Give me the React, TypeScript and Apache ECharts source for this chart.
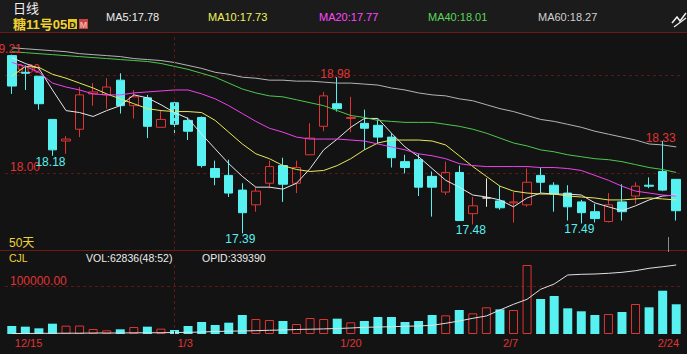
import React, { useEffect, useRef } from 'react';
import * as echarts from 'echarts';

const dates = [
  '12/15','12/16','12/17','12/20','12/21','12/22','12/23','12/27','12/28','12/29','12/30','12/31',
  '1/3','1/4','1/5','1/6','1/7','1/10','1/11','1/12','1/13','1/14','1/18','1/19','1/20','1/21',
  '1/24','1/25','1/26','1/27','1/28','1/31','2/1','2/2','2/3','2/4','2/7','2/8','2/9','2/10','2/11',
  '2/14','2/15','2/16','2/17','2/18','2/22','2/23','2/24','2/25',
];

const openP = [
  19.20, 19.03, 18.99, 18.55, 18.33, 18.45, 18.81, 18.80, 18.95, 18.69,
  18.77, 18.47, 18.72, 18.54, 18.57, 18.05, 17.98, 17.83, 17.68, 17.90,
  18.08, 17.90, 18.19, 18.48, 18.71, 18.56, 18.51, 18.49, 18.37, 18.12,
  18.14, 17.97, 17.81, 18.01, 17.59, 17.75, 17.72, 17.70, 17.68, 17.98,
  17.88, 17.80, 17.71, 17.61, 17.51, 17.71, 17.77, 17.88, 18.02, 17.94,
];
const closeP = [
  18.89, 19.02, 18.71, 18.24, 18.35, 18.80, 18.83, 18.88, 18.69, 18.78,
  18.48, 18.55, 18.50, 18.43, 18.08, 17.96, 17.80, 17.60, 17.82, 18.07,
  17.89, 18.06, 18.36, 18.79, 18.66, 18.57, 18.46, 18.37, 18.16, 18.06,
  17.86, 17.86, 18.01, 17.52, 17.67, 17.75, 17.65, 17.71, 17.91, 17.91,
  17.79, 17.66, 17.60, 17.54, 17.68, 17.61, 17.87, 17.87, 17.83, 17.62,
];
const lowP = [
  18.81, 18.85, 18.65, 18.18, 18.20, 18.37, 18.69, 18.66, 18.61, 18.56,
  18.36, 18.47, 18.41, 18.34, 18.06, 17.88, 17.76, 17.39, 17.61, 17.85,
  17.71, 17.80, 18.19, 18.43, 18.63, 18.42, 18.24, 18.30, 18.06, 18.00,
  17.77, 17.56, 17.78, 17.52, 17.48, 17.66, 17.63, 17.50, 17.66, 17.80,
  17.61, 17.52, 17.49, 17.50, 17.50, 17.52, 17.69, 17.85, 17.82, 17.52,
];
const highP = [
  19.21, 19.10, 18.99, 18.55, 18.38, 18.88, 18.92, 18.97, 19.02, 18.85,
  18.80, 18.64, 18.73, 18.57, 18.58, 18.13, 18.14, 17.90, 17.86, 18.13,
  18.16, 18.13, 18.51, 18.83, 18.98, 18.78, 18.65, 18.55, 18.41, 18.19,
  18.20, 18.02, 18.12, 18.08, 17.76, 17.95, 17.87, 17.81, 18.05, 18.06,
  17.91, 17.88, 17.73, 17.69, 17.80, 17.89, 17.91, 17.96, 18.33, 17.94,
];

const ma5 = [
  19.18, 19.12, 19.07, 18.85, 18.64, 18.62, 18.58, 18.64, 18.69, 18.80,
  18.77, 18.70, 18.62, 18.56, 18.40, 18.25, 18.10, 17.97, 17.86, 17.86,
  17.84, 17.90, 18.05, 18.24, 18.35, 18.47, 18.56, 18.56, 18.41, 18.27,
  18.17, 18.05, 17.93, 17.86, 17.78, 17.76, 17.73, 17.66, 17.75, 17.80,
  17.79, 17.79, 17.78, 17.70, 17.66, 17.62, 17.67, 17.73, 17.77, 17.78,
];
const ma10 = [
  18.99, 19.09, 19.08, 19.01, 18.97, 18.92, 18.87, 18.81, 18.76, 18.71,
  18.66, 18.64, 18.63, 18.63, 18.62, 18.54, 18.42, 18.30, 18.20, 18.15,
  18.08, 18.04, 18.02, 18.03, 18.08, 18.15, 18.24, 18.31, 18.34, 18.34,
  18.34, 18.33, 18.29, 18.18, 18.07, 17.97, 17.87, 17.82, 17.80, 17.79,
  17.79, 17.77, 17.76, 17.75, 17.73, 17.73, 17.74, 17.75, 17.74, 17.73,
];
const ma20 = [
  19.13, 19.09, 19.03, 18.92, 18.88, 18.85, 18.81, 18.80, 18.80, 18.82,
  18.83, 18.84, 18.85, 18.85, 18.81, 18.76, 18.69, 18.61, 18.53, 18.46,
  18.42, 18.37, 18.35, 18.35, 18.35, 18.34, 18.33, 18.30, 18.27, 18.24,
  18.20, 18.18, 18.15, 18.10, 18.08, 18.07, 18.07, 18.07, 18.07, 18.06,
  18.06, 18.05, 18.03, 17.98, 17.93, 17.87, 17.82, 17.80, 17.78, 17.77,
];
const ma40 = [
  19.24, 19.23, 19.22, 19.21, 19.20, 19.19, 19.18, 19.17, 19.16, 19.15,
  19.14, 19.12, 19.09, 19.06, 19.02, 18.98, 18.92, 18.86, 18.82, 18.79,
  18.78, 18.75, 18.72, 18.69, 18.64, 18.59, 18.57, 18.54, 18.53, 18.52,
  18.52, 18.52, 18.50, 18.48, 18.45, 18.41, 18.36, 18.31, 18.28, 18.24,
  18.22, 18.19, 18.17, 18.15, 18.14, 18.12, 18.09, 18.06, 18.04, 18.01,
];
const ma60 = [
  19.28, 19.27, 19.26, 19.25, 19.24, 19.22, 19.21, 19.20, 19.19, 19.17,
  19.16, 19.15, 19.13, 19.10, 19.07, 19.03, 19.01, 18.98, 18.97, 18.95,
  18.95, 18.94, 18.94, 18.93, 18.92, 18.92, 18.91, 18.90, 18.87, 18.85,
  18.82, 18.80, 18.79, 18.76, 18.74, 18.70, 18.66, 18.63, 18.59, 18.55,
  18.53, 18.50, 18.47, 18.43, 18.40, 18.37, 18.34, 18.30, 18.29, 18.27,
];

const volume = [
  16900, 15500, 12000, 21800, 17600, 17900, 10600, 7800, 9900, 14800,
  15500, 11300, 8500, 16900, 25400, 19000, 23900, 40200, 31700, 29600,
  27500, 21100, 33800, 31700, 32400, 24700, 27500, 35900, 35900, 25400,
  27500, 40200, 39500, 50700, 43700, 56400, 52100, 50700, 145900, 74000,
  80300, 54300, 48000, 40200, 42300, 46500, 63400, 56400, 91500, 62836,
];
const openInterest = [
  201000, 201000, 201400, 201400, 201600, 201600, 202000, 202000, 202000, 202400,
  202400, 202600, 203000, 203400, 204000, 205100, 205700, 206100, 206700, 207500,
  208100, 209100, 209700, 210300, 211100, 212100, 213500, 214100, 214700, 215600,
  216200, 217600, 221600, 226300, 231700, 236400, 248500, 260000, 270100, 290300,
  301000, 319200, 320600, 321200, 322600, 324600, 327900, 332700, 335900, 339390,
];

const priceTicks = [18, 19];
const volumeTicks = [100000];

const extremeIndex = [0, 3, 17, 24, 34, 42, 48];
const extremeValue = [19.21, 18.18, 17.39, 18.98, 17.48, 17.49, 18.33];
const extremeKind = ['high', 'low', 'low', 'high', 'low', 'low', 'high'];

const maNames = ['MA5', 'MA10', 'MA20', 'MA40', 'MA60'];
const maLast = ['17.78', '17.73', '17.77', '18.01', '18.27'];
const maSeries = [ma5, ma10, ma20, ma40, ma60];

const RED = '#e03434';
const CYAN = '#57f1f1';
const GRID = '#5a1818';
const FONT = '"Liberation Sans", Arial, sans-serif';
const MIXED = '"Liberation Sans", "Noto Sans CJK SC", sans-serif';
const maColors = ['#e6e6e6', '#e8e85a', '#f040f0', '#4cc84c', '#b4b4b4'];
const maTextColors = ['#ececec', '#f2f25c', '#ff48ff', '#5cd65c', '#cfcfcf'];
const legendX = [106, 208, 319, 428, 538];

// approximate width of an 11px date label (digits 6.12px, slash 3.06px)
const labelWidth = (s: string) => s.split('').reduce((w, c) => w + (c === '/' ? 3.06 : 6.12), 0);

export default function App() {
  const ref = useRef<HTMLDivElement>(null);
  useEffect(() => {
    document.body.style.margin = '0';
    const chart = echarts.init(ref.current!, undefined, { renderer: 'svg' });

    const candleData = dates.map((_, i) => [openP[i], closeP[i], lowP[i], highP[i]]);
    const volData = volume.map((v, i) => ({
      value: v,
      itemStyle: closeP[i] >= openP[i]
        ? { color: 'transparent', borderColor: RED, borderWidth: 1 }
        : { color: CYAN },
    }));

    const markPoints = extremeIndex.map((idx, k) => {
      const high = extremeKind[k] === 'high';
      return {
        coord: [dates[idx], extremeValue[k]],
        value: extremeValue[k],
        label: {
          position: high ? 'top' : 'bottom',
          color: high ? RED : CYAN,
          offset: idx === 0 ? [-5, 0] : high ? [-2, 3] : [-2, 0],
        },
      };
    });

    const vLine = {
      silent: true,
      symbol: 'none',
      label: { show: false },
      lineStyle: { color: GRID, type: [3, 3], width: 1 },
      data: [{ xAxis: '1/3' }],
    };

    const dateRich: any = {};
    const dateFormatter = (v: string, i: number) => {
      const tw = labelWidth(v);
      const shift = i === dates.length - 2 ? -5 : 3;
      const key = 't' + i;
      dateRich[key] = { color: RED, fontSize: 11, fontFamily: FONT, padding: [0, 0, 0, Math.max(0, tw + 2 * shift)] };
      return `{${key}|${v}}`;
    };
    [0, 12, 24, 36, 48].forEach((i) => dateFormatter(dates[i], i));

    const graphic: any[] = [
      { type: 'rect', shape: { x: 0, y: 0, width: 687, height: 32 }, style: { fill: '#1b1b1b' }, z: -10 },
      { type: 'line', shape: { x1: 0, y1: 32.5, x2: 687, y2: 32.5 }, style: { stroke: '#6e1a1a', lineWidth: 1 } },
      { type: 'line', shape: { x1: 0, y1: 250.5, x2: 687, y2: 250.5 }, style: { stroke: '#6e1a1a', lineWidth: 1 } },
      { type: 'line', shape: { x1: 668.5, y1: 237, x2: 668.5, y2: 252 }, style: { stroke: '#8a8a8a', lineWidth: 1 } },
      { type: 'text', x: 13, y: 8.5, style: { text: '日线', fill: '#f0f0f0', font: `13px ${MIXED}`, lineHeight: 13, verticalAlign: 'middle' } },
      { type: 'text', x: 13, y: 24.5, style: { text: '糖11号05', fill: '#f0d232', font: `bold 13px ${MIXED}`, lineHeight: 13, verticalAlign: 'middle' } },
      { type: 'rect', shape: { x: 68, y: 19, width: 9, height: 10 }, style: { fill: '#e6c81e' } },
      { type: 'text', x: 72.5, y: 24.5, style: { text: 'D', fill: '#1b1b1b', font: `bold 9px ${FONT}`, align: 'center', verticalAlign: 'middle' } },
      { type: 'rect', shape: { x: 79, y: 19, width: 9, height: 10 }, style: { fill: '#c84444' } },
      { type: 'text', x: 83.5, y: 24.5, style: { text: 'M', fill: '#f3b0a8', font: `bold 9px ${FONT}`, align: 'center', verticalAlign: 'middle' } },
      { type: 'polyline', shape: { points: [[672, 23], [677, 17], [680, 21], [686, 13]] }, style: { stroke: '#f0f0f0', lineWidth: 1.5, fill: null } },
      { type: 'polyline', shape: { points: [[674, 27], [686, 18]] }, style: { stroke: '#f0f0f0', lineWidth: 1.2, fill: null } },
      { type: 'text', x: 9, y: 243, style: { text: '50天', fill: '#eed43c', font: `12px ${MIXED}`, verticalAlign: 'middle' } },
      { type: 'text', x: 9, y: 257.5, style: { text: 'CJL', fill: '#eed43c', font: `10.5px ${FONT}`, verticalAlign: 'middle' } },
      { type: 'text', x: 86, y: 257.5, style: { text: `VOL:${volume[volume.length - 1]}(48:52)`, fill: '#ececec', font: `10.5px ${FONT}`, verticalAlign: 'middle' } },
      { type: 'text', x: 202, y: 257.5, style: { text: `OPID:${openInterest[openInterest.length - 1]}`, fill: '#ececec', font: `10.5px ${FONT}`, verticalAlign: 'middle' } },
    ];
    maNames.forEach((n, k) => {
      graphic.push({
        type: 'text', x: legendX[k], y: 17,
        style: { text: `${n}:${maLast[k]}`, fill: maTextColors[k], font: `11px ${FONT}`, verticalAlign: 'middle' },
      });
    });

    const option: any = {
      backgroundColor: '#131313',
      animation: false,
      textStyle: { fontFamily: FONT },
      grid: [
        { left: 5, right: 4, top: 35, height: 215, outerBoundsMode: 'none' },
        { left: 5, right: 4, top: 262, height: 72, outerBoundsMode: 'none' },
      ],
      xAxis: [
        {
          type: 'category', data: dates, gridIndex: 0,
          axisLine: { show: false }, axisTick: { show: false }, axisLabel: { show: false }, splitLine: { show: false },
        },
        {
          type: 'category', data: dates, gridIndex: 1,
          axisLine: { show: false }, axisTick: { show: false }, splitLine: { show: false },
          axisLabel: {
            interval: 11, align: 'center', margin: 3, color: RED, fontSize: 11, fontFamily: FONT,
            formatter: dateFormatter,
            rich: dateRich,
          },
        },
      ],
      yAxis: [
        {
          type: 'value', gridIndex: 0, min: 17.22, max: 19.41, position: 'left',
          axisLine: { show: false },
          axisTick: { show: false, customValues: priceTicks },
          axisLabel: {
            inside: true, customValues: priceTicks, margin: 5, color: RED, fontSize: 12, fontFamily: FONT,
            align: 'left', verticalAlign: 'bottom', formatter: (v: number) => v.toFixed(2),
          },
          splitLine: { show: true, lineStyle: { color: GRID, type: [3, 3], width: 1 } },
        },
        {
          type: 'value', gridIndex: 1, min: 0, max: 152200, position: 'left',
          axisLine: { show: false },
          axisTick: { show: false, customValues: volumeTicks },
          axisLabel: {
            inside: true, customValues: volumeTicks, margin: 5, color: RED, fontSize: 12, fontFamily: FONT,
            align: 'left', verticalAlign: 'bottom', formatter: (v: number) => v.toFixed(2),
          },
          splitLine: { show: true, lineStyle: { color: GRID, type: [3, 3], width: 1 } },
        },
        { type: 'value', gridIndex: 1, min: 200000, max: 345440, show: false, splitLine: { show: false } },
      ],
      series: [
        {
          type: 'candlestick', xAxisIndex: 0, yAxisIndex: 0, data: candleData, barWidth: '66%',
          itemStyle: {
            color: 'transparent', color0: CYAN, borderColor: RED, borderColor0: CYAN,
            borderColorDoji: '#e8e8e8', borderWidth: 1,
          },
          markPoint: {
            symbol: 'circle', symbolSize: 0, silent: true,
            label: { show: true, fontSize: 12, fontFamily: FONT, distance: 0, formatter: (p: any) => Number(p.value).toFixed(2) },
            data: markPoints,
          },
          markLine: vLine,
        },
        ...maSeries.map((d, k) => ({
          type: 'line', name: maNames[k], xAxisIndex: 0, yAxisIndex: 0, data: d,
          showSymbol: false, symbol: 'none', lineStyle: { color: maColors[k], width: 1 }, itemStyle: { color: maColors[k] },
        })),
        {
          type: 'bar', xAxisIndex: 1, yAxisIndex: 1, data: volData, barWidth: 9,
          markLine: vLine,
        },
        {
          type: 'line', xAxisIndex: 1, yAxisIndex: 2, data: openInterest, showSymbol: false, symbol: 'none',
          lineStyle: { color: '#e0e0e0', width: 1 },
        },
      ],
      graphic,
    };
    chart.setOption(option);
    return () => chart.dispose();
  }, []);
  return <div ref={ref} style={{ position: 'fixed', left: 0, top: 0, width: 687, height: 354 }} />;
}
